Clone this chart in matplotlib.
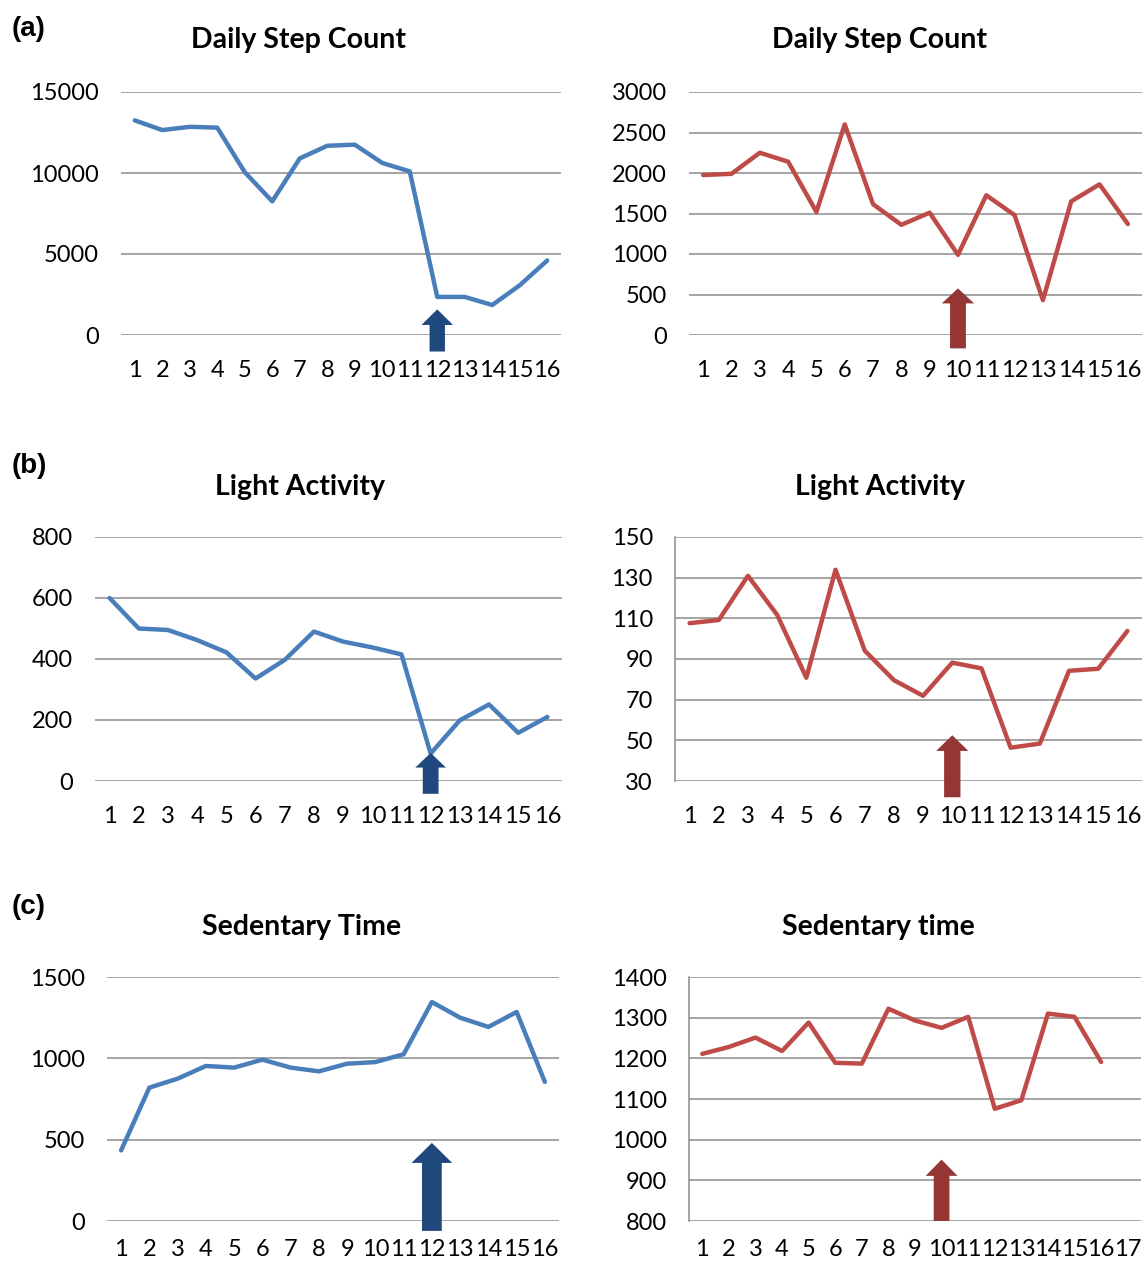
import matplotlib.pyplot as plt
from matplotlib.patches import FancyArrow
import numpy as np

# days on the category axis
days = list(range(1, 17))

# participant 1 (blue)
p1_steps = [13250, 12650, 12850, 12800, 10050, 8250, 10900, 11680,
            11750, 10620, 10100, 2350, 2350, 1850, 3070, 4600]
p1_light = [600, 500, 495, 462, 422, 336, 397, 490,
            457, 438, 415, 90, 199, 251, 158, 210]
p1_sedentary = [434, 820, 875, 953, 943, 992, 943, 920,
                967, 977, 1025, 1346, 1250, 1193, 1285, 855]

# participant 2 (red)
p2_steps = [1975, 1990, 2250, 2140, 1520, 2600, 1615, 1360,
            1510, 990, 1725, 1480, 430, 1650, 1860, 1370]
p2_light = [107.6, 109.2, 130.9, 111.7, 80.8, 133.9, 94.1, 79.6,
            71.9, 88.2, 85.4, 46.4, 48.4, 84.2, 85.2, 103.8]
p2_sedentary = [1211, 1228, 1251, 1218, 1288, 1189, 1187, 1322,
                1293, 1275, 1302, 1076, 1097, 1310, 1302, 1191]

# intervention arrows: (day, tip, head base, tail)
p1_arrows = [(12, 1580, 620, -1020), (12, 92, 44, -42), (12, 480, 357, -61)]
p2_arrows = [(10, 575, 390, -165), (10, 52.5, 44.8, 22), (10, 951, 911, 800)]

W, H = 1143, 1264
BLUE, DARK_BLUE = '#4a7ebb', '#1f497d'
RED, DARK_RED = '#be4b48', '#943634'
GRID = '#8c8c8c'

plt.rcParams['font.family'] = ['Lato', 'DejaVu Sans']

fig = plt.figure(figsize=(W / 100, H / 100), dpi=100)


def draw_panel(box, title, title_xy, values, color, ylim, ystep, n_cats,
               arrow, arrow_color, head_w, shaft_w, axis_line=False, xpad=18):
    x0, y0, x1, y1 = box
    ax = fig.add_axes([x0 / W, 1 - y1 / H, (x1 - x0) / W, (y1 - y0) / H])
    ax.set_xlim(0.5, n_cats + 0.5)
    ax.set_ylim(*ylim)
    ax.set_yticks(np.arange(ylim[0], ylim[1] + ystep / 2, ystep))
    ax.set_xticks(range(1, n_cats + 1))
    ax.tick_params(axis='both', length=0, labelsize=17, colors='black')
    ax.tick_params(axis='x', pad=xpad)
    ax.tick_params(axis='y', pad=16)
    for s in ax.spines.values():
        s.set_visible(False)
    if axis_line:
        ax.spines['left'].set_visible(True)
        ax.spines['left'].set_color(GRID)
        ax.spines['left'].set_linewidth(1.1)
    ax.grid(axis='y', color=GRID, lw=1.1)
    ax.grid(axis='x', visible=False)
    ax.set_axisbelow(True)
    ax.plot(days, values, color=color, lw=3.2,
            solid_joinstyle='round', solid_capstyle='round', zorder=2)

    day, tip, head_base, tail = arrow
    ax.add_patch(FancyArrow(day, tail, 0, tip - tail, width=shaft_w,
                            head_width=head_w, head_length=tip - head_base,
                            length_includes_head=True, color=arrow_color,
                            lw=0, clip_on=False, zorder=3))

    fig.text(title_xy[0] / W, 1 - title_xy[1] / H, title, fontsize=20.5,
             fontweight='bold', ha='center', va='center')
    return ax


# row (a)
draw_panel((121, 92, 561, 335), 'Daily Step Count', (299, 40), p1_steps, BLUE,
           (0, 15000), 5000, 16, p1_arrows[0], DARK_BLUE, 1.15, 0.56)
draw_panel((689, 92, 1142, 335), 'Daily Step Count', (880, 40), p2_steps, RED,
           (0, 3000), 500, 16, p2_arrows[0], DARK_RED, 1.14, 0.56)

# row (b)
draw_panel((95, 537, 562, 781), 'Light Activity', (300, 487), p1_light, BLUE,
           (0, 800), 200, 16, p1_arrows[1], DARK_BLUE, 1.05, 0.54)
draw_panel((675, 537, 1142, 781), 'Light Activity', (880, 487), p2_light, RED,
           (30, 150), 20, 16, p2_arrows[1], DARK_RED, 1.1, 0.56,
           axis_line=True)

# row (c)
draw_panel((107, 977, 559, 1221), 'Sedentary Time', (302, 927), p1_sedentary,
           BLUE, (0, 1500), 500, 16, p1_arrows[2], DARK_BLUE, 1.44, 0.7,
           xpad=13)
draw_panel((689, 977, 1141, 1221), 'Sedentary time', (878, 927), p2_sedentary,
           RED, (800, 1400), 100, 17, p2_arrows[2], DARK_RED, 1.2, 0.59,
           axis_line=True, xpad=13)

for label, y in [('(a)', 29), ('(b)', 466), ('(c)', 907)]:
    fig.text(29 / W, 1 - y / H, label, fontsize=20, fontweight='bold',
             family=['Liberation Sans', 'DejaVu Sans'],
             ha='center', va='center')

fig.savefig('out.png', dpi=100)
